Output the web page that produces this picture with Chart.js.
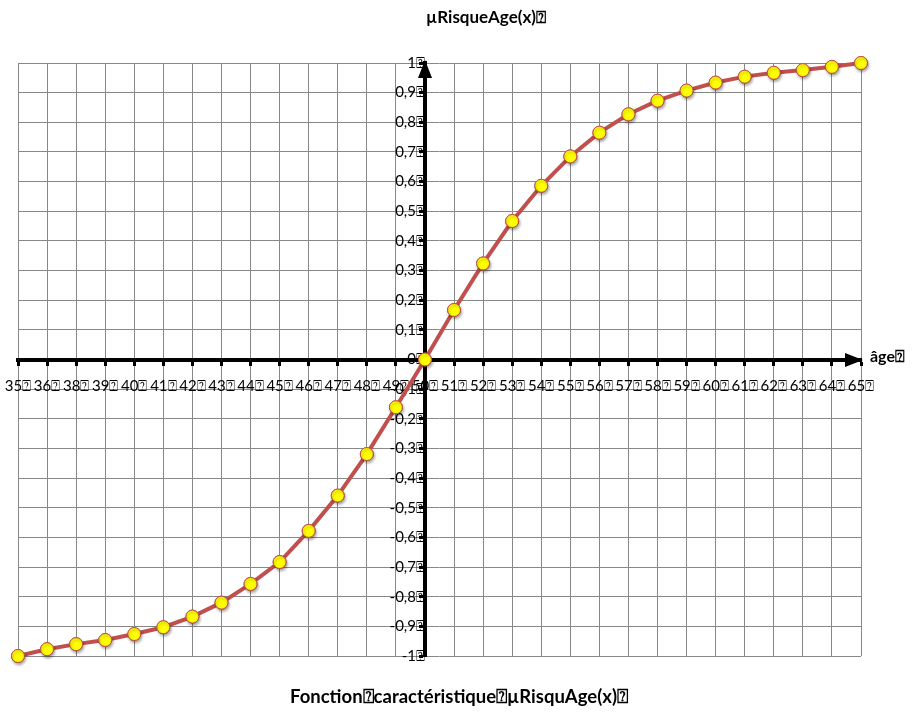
<!DOCTYPE html>
<html>
<head>
<meta charset="utf-8">
<script src="https://cdn.jsdelivr.net/npm/chart.js@4"></script>
<style>
  html, body { margin: 0; padding: 0; background: #fff; }
  #wrap { width: 917px; height: 712px; position: relative; }
</style>
</head>
<body>
<div id="wrap"><canvas id="chart"></canvas></div>
<script>
// missing-glyph box that follows every label in the original
const BOX = "\u2370";

const ages = ["35", "36", "38", "39", "40", "41", "42", "43", "44", "45", "46", "47", "48", "49", "50",
  "51", "52", "53", "54", "55", "56", "57", "58", "59", "60", "61", "62", "63", "64", "65"];
const risque = [-1, -0.977, -0.96, -0.946, -0.926, -0.903, -0.867, -0.82, -0.757, -0.683, -0.578, -0.459, -0.319, -0.161, 0,
  0.167, 0.324, 0.467, 0.586, 0.685, 0.765, 0.827, 0.873, 0.907, 0.934, 0.954, 0.967, 0.976, 0.987, 1];

const chartTitle = "\u00b5RisqueAge(x)" + BOX;
const bottomTitle = "Fonction" + BOX + "caract\u00e9ristique" + BOX + "\u00b5RisquAge(x)" + BOX;
const xTitle = "\u00e2ge" + BOX;

const FONT = "Lato, 'Open Sans', sans-serif";

// arrows on the axes + the titles
const decorations = {
  id: "decorations",
  afterDraw(chart) {
    const ctx = chart.ctx;
    const x = chart.scales.x, y = chart.scales.y;
    const ax = Math.round(x.getPixelForValue(14));
    const ay = Math.round(y.getPixelForValue(0));
    const area = chart.chartArea;
    ctx.save();
    ctx.fillStyle = "#000";
    // up arrow
    ctx.beginPath();
    ctx.moveTo(ax, area.top - 3);
    ctx.lineTo(ax - 7, area.top + 15);
    ctx.lineTo(ax + 7, area.top + 15);
    ctx.closePath();
    ctx.fill();
    // right arrow
    ctx.beginPath();
    ctx.moveTo(area.right + 2, ay);
    ctx.lineTo(area.right - 16, ay - 7);
    ctx.lineTo(area.right - 16, ay + 7);
    ctx.closePath();
    ctx.fill();

    ctx.textBaseline = "middle";
    ctx.font = "bold 17px " + FONT;
    ctx.textAlign = "center";
    ctx.fillText(chartTitle, 486, 18);
    ctx.textAlign = "left";
    ctx.font = "bold 16px " + FONT;
    ctx.fillText(xTitle, 870, ay - 3);
    ctx.font = "bold 18.5px " + FONT;
    ctx.textAlign = "center";
    ctx.fillText(bottomTitle, 459, 697);
    ctx.restore();
  }
};

// soft shadow under the markers only
const markerShadow = {
  id: "markerShadow",
  afterDatasetsDraw(chart) {
    const ctx = chart.ctx;
    const meta = chart.getDatasetMeta(0);
    ctx.save();
    ctx.shadowColor = "rgba(0,0,0,0.35)";
    ctx.shadowBlur = 3;
    ctx.shadowOffsetX = 1;
    ctx.shadowOffsetY = 2;
    meta.data.forEach(p => p.draw(ctx));
    ctx.restore();
  }
};

new Chart(document.getElementById("chart"), {
  type: "line",
  data: {
    labels: ages,
    datasets: [{
      data: risque,
      borderColor: "#c0504d",
      borderWidth: 4,
      tension: 0,
      pointRadius: 6.5,
      pointHoverRadius: 6.5,
      pointBackgroundColor: "#ffff00",
      pointBorderColor: "#c0504d",
      pointBorderWidth: 1,
      clip: false
    }]
  },
  options: {
    responsive: true,
    maintainAspectRatio: false,
    animation: false,
    layout: { padding: { left: 18, right: 56, top: 63, bottom: 56 } },
    plugins: { legend: { display: false }, tooltip: { enabled: false } },
    scales: {
      x: {
        position: { y: 0 },
        afterFit(scale) { scale.paddingLeft = 0; scale.paddingRight = 0; },
        grid: { color: "#888", lineWidth: 1, tickColor: "#000", tickWidth: 3, tickLength: 4 },
        border: { color: "#000", width: 4 },
        ticks: {
          color: "#000",
          font: { family: FONT, size: 15 },
          autoSkip: false, maxRotation: 0, minRotation: 0, padding: 14,
          callback: function (v) { return this.getLabelForValue(v) + BOX; }
        }
      },
      y: {
        position: { x: 14 },
        min: -1, max: 1,
        grid: { color: "#888", lineWidth: 1, tickColor: "#000", tickWidth: 3, tickLength: 4 },
        border: { color: "#000", width: 4 },
        ticks: {
          stepSize: 0.1,
          color: "#000",
          font: { family: FONT, size: 15 },
          padding: 3,
          callback: function (v) {
            const r = Math.round(v * 10) / 10;
            return String(r === 0 ? 0 : r).replace(".", ",") + BOX;
          }
        }
      }
    }
  },
  plugins: [decorations, markerShadow]
});
</script>
</body>
</html>
